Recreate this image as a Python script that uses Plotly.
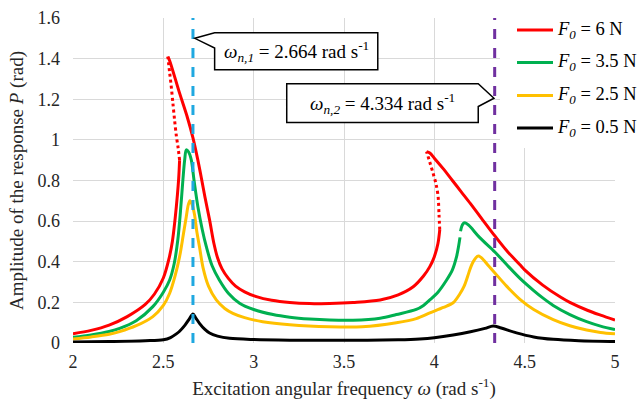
import plotly.graph_objects as go

# ---------------- data ----------------
omega_n1 = 2.664
omega_n2 = 4.334

series_names = ["<i>F<sub>0</sub></i> = 6 N", "<i>F<sub>0</sub></i> = 3.5 N",
                "<i>F<sub>0</sub></i> = 2.5 N", "<i>F<sub>0</sub></i> = 0.5 N"]

# F0 = 6 N
red_lo_x = [2.0, 2.1, 2.2, 2.3, 2.4, 2.45, 2.5, 2.53, 2.55, 2.565, 2.578, 2.585, 2.59]
red_lo_y = [0.046, 0.062, 0.088, 0.13, 0.19, 0.24, 0.32, 0.41, 0.50, 0.61, 0.73, 0.81, 0.90]
red_dot1_x = [2.59, 2.582, 2.572, 2.562, 2.553, 2.543, 2.535, 2.525]
red_dot1_y = [0.90, 0.96, 1.02, 1.10, 1.18, 1.27, 1.33, 1.41]
red_mid_x = [2.525, 2.535, 2.59, 2.63, 2.664, 2.69, 2.71, 2.73, 2.756, 2.78, 2.80, 2.825, 2.86,
             2.9, 2.95, 3.015, 3.1, 3.2, 3.31, 3.42, 3.55, 3.7, 3.8, 3.883, 3.94, 3.975, 4.0,
             4.02, 4.03]
red_mid_y = [1.41, 1.39, 1.23, 1.12, 1.01, 0.905, 0.815, 0.72, 0.606, 0.49, 0.42, 0.365, 0.318,
             0.28, 0.252, 0.228, 0.21, 0.199, 0.194, 0.195, 0.200, 0.212, 0.237, 0.277, 0.33,
             0.376, 0.425, 0.49, 0.557]
red_dot2_x = [4.03, 4.026, 4.021, 4.01, 3.993, 3.975, 3.957]
red_dot2_y = [0.557, 0.63, 0.72, 0.78, 0.836, 0.89, 0.942]
red_hi_x = [3.957, 3.975, 4.0, 4.05, 4.1, 4.15, 4.2, 4.26, 4.335, 4.4, 4.474, 4.5, 4.6, 4.7,
            4.75, 4.85, 4.92, 5.0]
red_hi_y = [0.942, 0.935, 0.91, 0.857, 0.80, 0.743, 0.686, 0.615, 0.527, 0.455, 0.385, 0.36,
            0.285, 0.225, 0.20, 0.16, 0.137, 0.113]

# F0 = 3.5 N
green_lo_x = [2.0, 2.1, 2.2, 2.258, 2.35, 2.442, 2.5, 2.535, 2.56, 2.58, 2.595, 2.608, 2.618,
              2.627, 2.64, 2.655, 2.67, 2.691, 2.715, 2.738, 2.77, 2.81, 2.86, 2.922, 3.0,
              3.107, 3.2, 3.31, 3.42, 3.55, 3.7, 3.79, 3.9, 3.94, 3.975, 4.02, 4.068, 4.1,
              4.123, 4.135, 4.142]
green_lo_y = [0.028, 0.04, 0.057, 0.072, 0.11, 0.179, 0.25, 0.31, 0.39, 0.507, 0.65, 0.80, 0.90,
              0.951, 0.94, 0.90, 0.80, 0.672, 0.56, 0.474, 0.38, 0.31, 0.245, 0.196, 0.165,
              0.14, 0.127, 0.118, 0.113, 0.112, 0.122, 0.14, 0.165, 0.185, 0.212, 0.25, 0.31, 0.36,
              0.425, 0.48, 0.52]
green_hi_x = [4.145, 4.152, 4.16, 4.169, 4.19, 4.25, 4.335, 4.4, 4.474, 4.55, 4.6, 4.658,
              4.75, 4.843, 4.92, 5.0]
green_hi_y = [0.55, 0.575, 0.588, 0.592, 0.58, 0.52, 0.448, 0.386, 0.318, 0.258, 0.222, 0.185,
              0.14, 0.105, 0.083, 0.066]

# F0 = 2.5 N
yellow_x = [2.0, 2.1, 2.2, 2.258, 2.35, 2.442, 2.5, 2.535, 2.565, 2.59, 2.61, 2.627, 2.638,
            2.647, 2.66, 2.673, 2.685, 2.70, 2.72, 2.75, 2.793, 2.84, 2.885, 2.95, 3.05, 3.2,
            3.42, 3.6, 3.79, 3.9, 3.975, 4.05, 4.104, 4.14, 4.165, 4.185, 4.2, 4.215, 4.23,
            4.243, 4.26, 4.3, 4.335, 4.4, 4.474, 4.55, 4.658, 4.75, 4.843, 4.92, 5.0]
yellow_y = [0.02, 0.03, 0.043, 0.056, 0.085, 0.13, 0.185, 0.245, 0.33, 0.425, 0.53, 0.622, 0.68,
            0.70, 0.68, 0.63, 0.55, 0.474, 0.37, 0.28, 0.212, 0.17, 0.146, 0.125, 0.105, 0.09,
            0.08, 0.08, 0.10, 0.12, 0.148, 0.175, 0.198, 0.24, 0.28, 0.33, 0.37, 0.40, 0.42,
            0.428, 0.42, 0.38, 0.345, 0.28, 0.215, 0.165, 0.115, 0.085, 0.064, 0.052, 0.045]

# F0 = 0.5 N
black_x = [2.0, 2.2, 2.4, 2.5, 2.54, 2.572, 2.59, 2.62, 2.645, 2.664, 2.68, 2.70, 2.73, 2.756,
           2.8, 2.867, 3.0, 3.2, 3.5, 3.8, 3.92, 4.0, 4.104, 4.2, 4.28, 4.326, 4.37, 4.455,
           4.55, 4.658, 4.8, 5.0]
black_y = [0.005, 0.007, 0.011, 0.016, 0.027, 0.045, 0.058, 0.088, 0.12, 0.143, 0.123, 0.097,
           0.067, 0.049, 0.034, 0.023, 0.017, 0.014, 0.013, 0.016, 0.02, 0.026, 0.039, 0.055,
           0.072, 0.084, 0.074, 0.05, 0.03, 0.018, 0.011, 0.007]

x_ticks = [2, 2.5, 3, 3.5, 4, 4.5, 5]
x_tick_labels = ["2", "2.5", "3", "3.5", "4", "4.5", "5"]
y_ticks = [0, 0.2, 0.4, 0.6, 0.8, 1.0, 1.2, 1.4, 1.6]
y_tick_labels = ["0", "0.2", "0.4", "0.6", "0.8", "1", "1.2", "1.4", "1.6"]

# ---------------- styling ----------------
RED, GREEN, YELLOW, BLACK = "#FF0000", "#00B050", "#FFC000", "#000000"
BLUE, PURPLE = "#1FA8E0", "#7030A0"
FONT = "Liberation Serif, Times New Roman, serif"
TXT = "#262626"
LW = 3
W, H = 638, 401
ML, MR, MT, MB = 73, 23, 18, 58
PW, PH = W - ML - MR, H - MT - MB


def px_x(px):  # figure pixel -> paper x
    return (px - ML) / PW


def px_y(py):  # figure pixel -> paper y
    return (H - MB - py) / PH


fig = go.Figure()


def add(x, y, color, dotted=False):
    fig.add_trace(go.Scatter(
        x=x, y=y, mode="lines", showlegend=False,
        line=dict(color=color, width=LW, shape="spline", smoothing=0.9,
                  dash="3px,3px" if dotted else "solid"),
        hoverinfo="skip"))


add(red_lo_x, red_lo_y, RED)
add(red_dot1_x, red_dot1_y, RED, dotted=True)
add(red_mid_x, red_mid_y, RED)
add(red_dot2_x, red_dot2_y, RED, dotted=True)
add(red_hi_x, red_hi_y, RED)
add(green_lo_x, green_lo_y, GREEN)
add(green_hi_x, green_hi_y, GREEN)
add(yellow_x, yellow_y, YELLOW)
add(black_x, black_y, BLACK)

# natural-frequency dashed lines
for xv, col in [(omega_n1, BLUE), (omega_n2, PURPLE)]:
    fig.add_shape(type="line", xref="x", yref="paper", x0=xv, x1=xv, y0=0, y1=1,
                  line=dict(color=col, width=3, dash="10px,9px"), layer="above")


# callout boxes
def callout_left(tipx, tipy, x0, x1, ytop, ybot, yjoin):
    return (f"M{tipx},{tipy} L{x0},{ytop} L{x1},{ytop} L{x1},{ybot} "
            f"L{x0},{ybot} L{x0},{yjoin} Z")


def callout_right(tipx, tipy, x0, x1, ytop, ybot, yjoin):
    return (f"M{tipx},{tipy} L{x1},{yjoin} L{x1},{ybot} L{x0},{ybot} "
            f"L{x0},{ytop} L{x1},{ytop} Z")


box1 = dict(x0=2.784, x1=3.687, ytop=1.527, ybot=1.345, yjoin=1.452)
box2 = dict(x0=3.183, x1=4.243, ytop=1.276, ybot=1.085, yjoin=1.164)
fig.add_shape(type="path", xref="x", yref="y",
              path=callout_left(omega_n1 + 0.01, 1.50, **box1),
              fillcolor="white", line=dict(color="black", width=1.5), layer="above")
fig.add_shape(type="path", xref="x", yref="y",
              path=callout_right(omega_n2 - 0.004, 1.205, **box2),
              fillcolor="white", line=dict(color="black", width=1.5), layer="above")

fig.add_annotation(x=(box1["x0"] + box1["x1"]) / 2, y=(box1["ytop"] + box1["ybot"]) / 2,
                   xref="x", yref="y", showarrow=False,
                   text=f"<i>ω</i><sub><i>n,1</i></sub> = {omega_n1} rad s<sup>-1</sup>",
                   font=dict(family=FONT, size=19, color="black"))
fig.add_annotation(x=(box2["x0"] + box2["x1"]) / 2, y=(box2["ytop"] + box2["ybot"]) / 2,
                   xref="x", yref="y", showarrow=False,
                   text=f"<i>ω</i><sub><i>n,2</i></sub> = {omega_n2} rad s<sup>-1</sup>",
                   font=dict(family=FONT, size=19, color="black"))

# legend (drawn in the top-right corner over a white panel, as in the reference)
fig.add_shape(type="rect", xref="paper", yref="paper",
              x0=px_x(500), x1=px_x(W), y0=px_y(148), y1=px_y(0),
              fillcolor="white", line=dict(width=0), layer="above")
legend_rows = [30, 62.5, 95.5, 128]
for name, col, ry in zip(series_names, [RED, GREEN, YELLOW, BLACK], legend_rows):
    fig.add_shape(type="line", xref="paper", yref="paper",
                  x0=px_x(517), x1=px_x(553), y0=px_y(ry), y1=px_y(ry),
                  line=dict(color=col, width=3), layer="above")
    fig.add_annotation(x=px_x(555), y=px_y(ry), xref="paper", yref="paper",
                       xanchor="left", yanchor="middle", showarrow=False, text=name,
                       font=dict(family=FONT, size=18.5, color="black"))

axis_common = dict(showgrid=True, gridcolor="#D9D9D9", gridwidth=1, zeroline=False,
                   showline=False, ticks="", automargin=False,
                   tickfont=dict(family=FONT, size=18, color=TXT))

fig.update_xaxes(range=[2, 5], tickvals=x_ticks, ticktext=x_tick_labels,
                 ticklabelstandoff=6,
                 title=dict(text="Excitation angular frequency <i>ω</i> (rad s<sup>-1</sup>)",
                            font=dict(family=FONT, size=19, color=TXT), standoff=10),
                 **axis_common)
fig.update_yaxes(range=[0, 1.6], tickvals=y_ticks, ticktext=y_tick_labels,
                 ticklabelstandoff=12,
                 title=dict(text="Amplitude of the response <i>P</i> (rad)",
                            font=dict(family=FONT, size=19, color=TXT), standoff=8),
                 **axis_common)

fig.update_layout(
    width=W, height=H,
    margin=dict(l=ML, r=MR, t=MT, b=MB),
    plot_bgcolor="white", paper_bgcolor="white",
    font=dict(family=FONT, size=18, color=TXT),
    showlegend=False,
)

fig.write_html("out.html", post_script="document.body.style.margin='0';",
               config={"displayModeBar": False})
